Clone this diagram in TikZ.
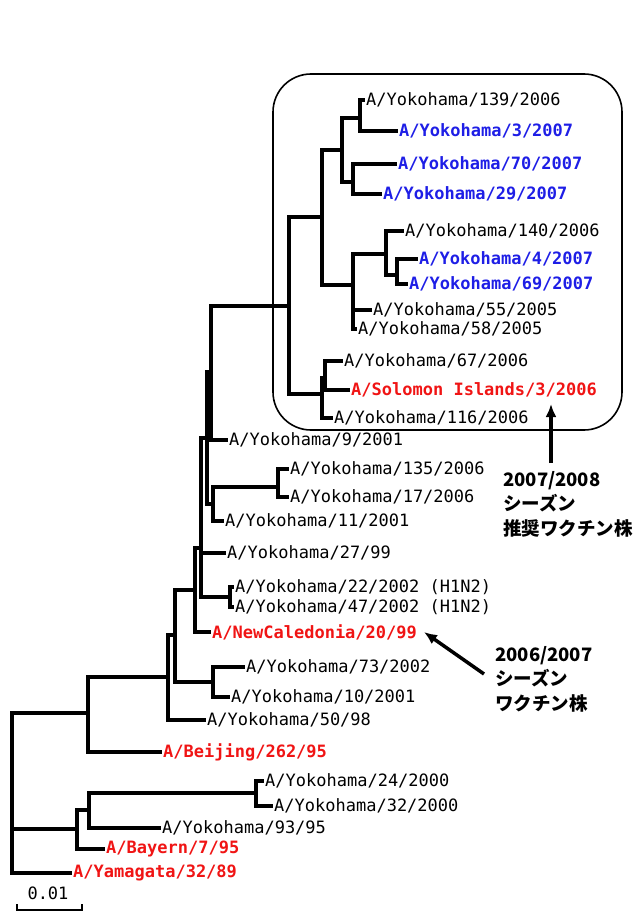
\documentclass[tikz,border=0pt]{standalone}
\usepackage{fontspec}
\setmonofont{DejaVu Sans Mono}
\newfontfamily\jpfont{Noto Sans CJK JP}
\usetikzlibrary{arrows.meta}
\definecolor{strainblue}{RGB}{30,30,230}
\definecolor{strainred}{RGB}{240,20,20}
\tikzset{line/.style={draw, line width=3.5pt, -{Latex[length=13pt,width=11pt]}}}

\begin{document}
\begin{tikzpicture}[x=1pt, y=-1pt]
\tikzstyle{br} = [draw, line width=3.2pt]
\tikzstyle{leaf} = [anchor=west, inner sep=1pt, font=\fontsize{17}{17}\selectfont\ttfamily]
\tikzstyle{leafblue} = [leaf, text=strainblue, font=\fontsize{17}{17}\selectfont\ttfamily\bfseries]
\tikzstyle{leafred} = [leaf, text=strainred, font=\fontsize{17}{17}\selectfont\ttfamily\bfseries]
\tikzstyle{note} = [anchor=north west, align=left, inner sep=0pt, font=\jpfont\bfseries\fontsize{18.5}{24.5}\selectfont]

\useasboundingbox (0,0) rectangle (636,915);

% inner nodes
\coordinate (root) at (12,792);
\coordinate (n1) at (88,713);
\coordinate (n2) at (77,829);
\coordinate (n3) at (89,810);
\coordinate (n4) at (256,793);
\coordinate (p) at (168,677);
\coordinate (q) at (175,635);
\coordinate (s) at (213,682);
\coordinate (r) at (195,590);
\coordinate (r2) at (201,548);
\coordinate (hh) at (230,597);
\coordinate (u) at (207,438);
\coordinate (v) at (211,372);
\coordinate (w) at (213,504);
\coordinate (h) at (278,487);
\coordinate (b0) at (289,306);
\coordinate (b1) at (322,217);
\coordinate (b2) at (322,394);
\coordinate (b3) at (325,378);
\coordinate (c1) at (342,150);
\coordinate (c2) at (360,118);
\coordinate (c3) at (353,182);
\coordinate (d1) at (353,285);
\coordinate (d2) at (386,254);
\coordinate (d3) at (397,275);

% strains
\node [leaf](t139) at (365,100) {A/Yokohama/139/2006};
\node [leafblue](t3) at (398,131) {A/Yokohama/3/2007};
\node [leafblue](t70) at (397,164) {A/Yokohama/70/2007};
\node [leafblue](t29) at (382,194) {A/Yokohama/29/2007};
\node [leaf](t140) at (404,231) {A/Yokohama/140/2006};
\node [leafblue](t4) at (418,259) {A/Yokohama/4/2007};
\node [leafblue](t69) at (408,284) {A/Yokohama/69/2007};
\node [leaf](t55) at (372,310) {A/Yokohama/55/2005};
\node [leaf](t58) at (357,329) {A/Yokohama/58/2005};
\node [leaf](t67) at (343,361) {A/Yokohama/67/2006};
\node [leafred](tsol) at (350,390) {A/Solomon Islands/3/2006};
\node [leaf](t116) at (333,418) {A/Yokohama/116/2006};
\node [leaf](t9) at (228,440) {A/Yokohama/9/2001};
\node [leaf](t135) at (289,469) {A/Yokohama/135/2006};
\node [leaf](t17) at (289,497) {A/Yokohama/17/2006};
\node [leaf](t11) at (224,521) {A/Yokohama/11/2001};
\node [leaf](t27) at (226,553) {A/Yokohama/27/99};
\node [leaf](t22) at (234,587) {A/Yokohama/22/2002 (H1N2)};
\node [leaf](t47) at (234,607) {A/Yokohama/47/2002 (H1N2)};
\node [leafred](tnc) at (211,632) {A/NewCaledonia/20/99};
\node [leaf](t73) at (245,667) {A/Yokohama/73/2002};
\node [leaf](t10) at (230,697) {A/Yokohama/10/2001};
\node [leaf](t50) at (206,720) {A/Yokohama/50/98};
\node [leafred](tbei) at (162,752) {A/Beijing/262/95};
\node [leaf](t24) at (264,781) {A/Yokohama/24/2000};
\node [leaf](t32) at (273,806) {A/Yokohama/32/2000};
\node [leaf](t93) at (161,828) {A/Yokohama/93/95};
\node [leafred](tbay) at (105,849) {A/Bayern/7/95};
\node [leafred](tyam) at (72,873) {A/Yamagata/32/89};

% branches
\foreach \a/\b in {root/n1, root/n2, n2/n3, n3/n4, n1/p, p/q, q/s, q/r, r/r2,
    r2/hh, r2/u, u/v, u/w, w/h, v/b0, b0/b1, b0/b2, b2/b3, b1/c1, b1/d1,
    c1/c2, c1/c3, d1/d2, d2/d3}
    \draw [br] (\a) |- (\b);
\foreach \a/\b in {c2/t139, c2/t3, c3/t70, c3/t29, d2/t140, d3/t4, d3/t69,
    d1/t55, d1/t58, b3/t67, b3/tsol, b2/t116, v/t9, h/t135, h/t17, w/t11,
    r2/t27, hh/t22, hh/t47, r/tnc, s/t73, s/t10, p/t50, n1/tbei, n4/t24,
    n4/t32, n3/t93, n2/tbay, root/tyam}
    \draw [br] (\a) |- (\b.west);

% cluster frame
\draw [line width=1.6pt, rounded corners=38pt] (273,74) rectangle (622,430);

% vaccine strains
\node [note](note1) at (503,471) {2007/2008\\シーズン\\推奨ワクチン株};
\node [note](note2) at (495,646) {2006/2007\\シーズン\\ワクチン株};
\coordinate (tail1) at (551,463);
\coordinate (head1) at (551,404);
\coordinate (tail2) at (484,674);
\coordinate (head2) at (424,632);
\draw [line] (tail1) -- (head1);
\draw [line] (tail2) -- (head2);

% scale
\draw [line width=1.8pt] (17,904) -- (17,910) -- (82,910) -- (82,904);
\node [font=\fontsize{17}{17}\selectfont\ttfamily](scale) at (48,893) {0.01};
\end{tikzpicture}
\end{document}
